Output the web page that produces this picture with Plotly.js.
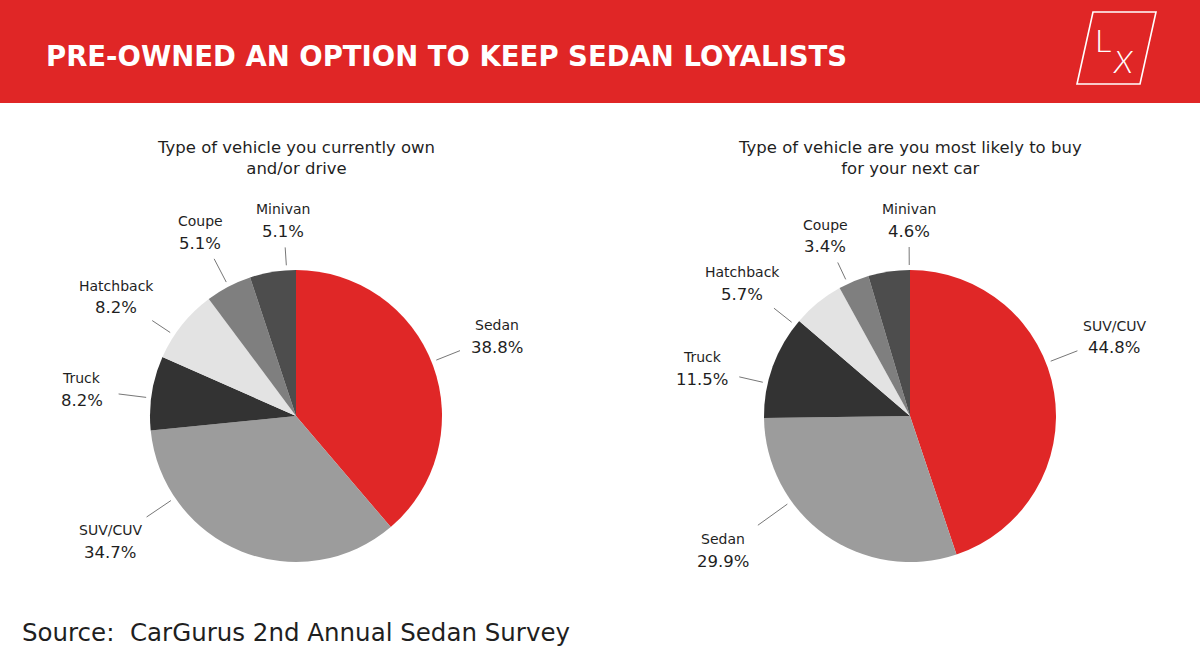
<!DOCTYPE html>
<html>
<head>
<meta charset="utf-8">
<script src="https://cdn.plot.ly/plotly-3.0.1.min.js"></script>
<style>
  html, body { margin: 0; padding: 0; background: #fff; }
  #chart { width: 1200px; height: 662px; }
</style>
</head>
<body>
<div id="chart"></div>
<script>
// ---- data ----
const ownLabels = ['Sedan', 'SUV/CUV', 'Truck', 'Hatchback', 'Coupe', 'Minivan'];
const ownValues = [38.8, 34.7, 8.2, 8.2, 5.1, 5.1];

const nextLabels = ['SUV/CUV', 'Sedan', 'Truck', 'Hatchback', 'Coupe', 'Minivan'];
const nextValues = [44.8, 29.9, 11.5, 5.7, 3.4, 4.6];

const sliceColors = ['#E02727', '#9C9C9C', '#333333', '#E3E3E3', '#7F7F7F', '#4D4D4D'];

// ---- layout constants ----
const W = 1200, H = 662;
const R = 146;
const FONT = 'DejaVu Sans, Noto Sans, sans-serif';
const TXT = '#1f1f1f';

// pie centres in pixels and label placement tweaks (degrees, px from centre)
const pies = [
    { cx: 296, cy: 416, labels: ownLabels, values: ownValues,
      title: 'Type of vehicle you currently own<br>and/or drive',
      nudge: [-1.5, 34, -2, -5, 0, 5.5], dist: [216, 224, 216, 216, 207, 196] },
    { cx: 910, cy: 416, labels: nextLabels, values: nextValues,
      title: 'Type of vehicle are you most likely to buy<br>for your next car',
      nudge: [-12, 19, -7, -12.5, -2.5, 8], dist: [219, 230, 213, 214, 199, 196] }
];

const px = x => x / W;
const py = y => 1 - y / H;

// centred text at pixel position
function note(x, y, text, font, extra) {
    return Object.assign({ xref: 'paper', yref: 'paper', x: px(x), y: py(y),
        xanchor: 'center', yanchor: 'middle', text: text, showarrow: false, font: font }, extra || {});
}

const traces = [];
const annotations = [];
const shapes = [];

// header band
shapes.push({ type: 'rect', xref: 'paper', yref: 'paper', x0: 0, x1: 1, y0: py(103), y1: 1,
    fillcolor: '#E02626', line: { width: 0 }, layer: 'below' });

// logo outline
shapes.push({ type: 'path', xref: 'paper', yref: 'paper',
    path: `M ${px(1093)},${py(12)} L ${px(1156)},${py(12)} L ${px(1140)},${py(84)} L ${px(1077)},${py(84)} Z`,
    line: { color: '#ffffff', width: 1.6 } });

const logoFont = { family: 'Lato, Open Sans, sans-serif', size: 32, color: '#ffffff', weight: 300 };
annotations.push(note(1103, 39, 'L', logoFont));
annotations.push(note(1123, 60, 'X', Object.assign({}, logoFont, { style: 'italic' })));

annotations.push(note(44, 56, 'PRE-OWNED AN OPTION TO KEEP SEDAN LOYALISTS',
    { family: FONT, size: 27.5, color: '#ffffff', weight: 700 }, { xanchor: 'left' }));

annotations.push(note(20, 632, 'Source:  CarGurus 2nd Annual Sedan Survey',
    { family: FONT, size: 24.5, color: TXT }, { xanchor: 'left' }));

pies.forEach(p => {
    traces.push({
        type: 'pie',
        labels: p.labels,
        values: p.values,
        sort: false,
        direction: 'clockwise',
        rotation: 0,
        textinfo: 'none',
        hoverinfo: 'label+value',
        showlegend: false,
        marker: { colors: sliceColors, line: { width: 0 } },
        domain: { x: [px(p.cx - R), px(p.cx + R)], y: [py(p.cy + R), py(p.cy - R)] }
    });

    annotations.push(note(p.cx, 158, p.title, { family: FONT, size: 16.5, color: TXT }));

    const total = p.values.reduce((a, b) => a + b, 0);
    let cum = 0;
    p.values.forEach((v, i) => {
        const mid = (cum + v / 2) / total * 360;
        cum += v;
        const ang = (mid + p.nudge[i]) * Math.PI / 180;
        const lx = p.cx + Math.sin(ang) * p.dist[i];
        const ly = p.cy - Math.cos(ang) * p.dist[i];

        annotations.push(note(lx, ly - 11, p.labels[i], { family: FONT, size: 14, color: TXT }));
        annotations.push(note(lx, ly + 11, v.toFixed(1) + '%', { family: FONT, size: 16.5, color: TXT }));

        // leader line: from pie edge towards label box
        const dx = p.cx - lx, dy = p.cy - ly;
        const len = Math.hypot(dx, dy);
        const ux = dx / len, uy = dy / len;
        const t = Math.min(32 / Math.abs(ux || 1e-6), 22 / Math.abs(uy || 1e-6)) + 5;
        const ex = lx + ux * t, ey = ly + uy * t;
        const sx = p.cx - ux * (R + 5), sy = p.cy - uy * (R + 5);
        shapes.push({ type: 'line', xref: 'paper', yref: 'paper',
            x0: px(sx), y0: py(sy), x1: px(ex), y1: py(ey),
            line: { color: '#777777', width: 1 } });
    });
});

const layout = {
    width: W,
    height: H,
    margin: { t: 0, b: 0, l: 0, r: 0 },
    paper_bgcolor: '#ffffff',
    plot_bgcolor: '#ffffff',
    font: { family: FONT, color: TXT },
    shapes: shapes,
    annotations: annotations
};

Plotly.newPlot('chart', traces, layout, { displayModeBar: false, staticPlot: true });
</script>
</body>
</html>
